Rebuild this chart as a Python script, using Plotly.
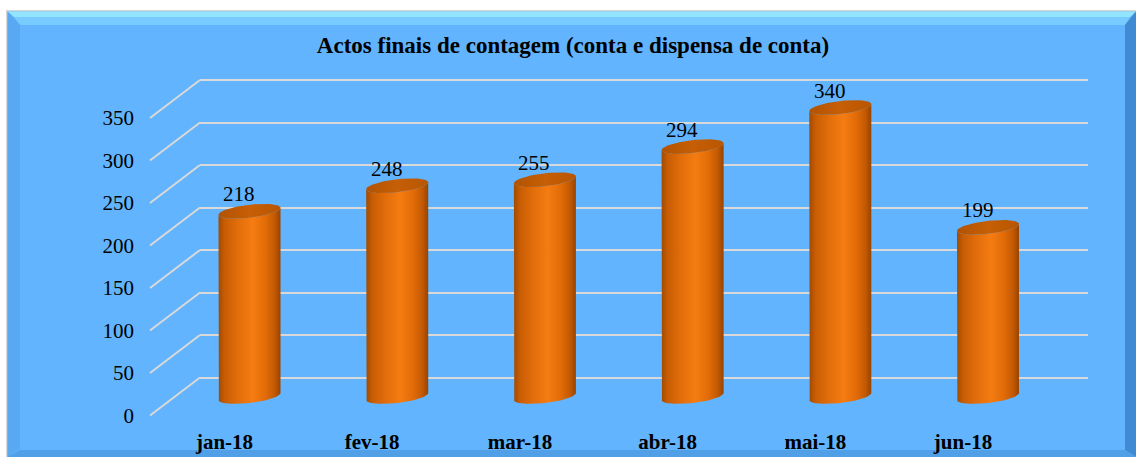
import numpy as np
import plotly.graph_objects as go

# ---------------- data ----------------
categories = ["jan-18", "fev-18", "mar-18", "abr-18", "mai-18", "jun-18"]
values = [218, 248, 255, 294, 340, 199]
tick_values = [0, 50, 100, 150, 200, 250, 300, 350]
tick_labels = ["0", "50", "100", "150", "200", "250", "300", "350"]
title_text = "Actos finais de contagem (conta e dispensa de conta)"

# ---------------- geometry / style ----------------
W, H = 1136, 457
PXU = 0.85            # pixels per value unit
PXC = 147.7           # pixels per category
X0_PX = 249.5         # pixel of first category centre (mid depth)
MID0_PX = 396.5       # pixel of value 0 at mid depth
DEPTH_DX, DEPTH_DY = 50, 38   # full depth offset (front -> back)
BACK0_PX = MID0_PX - DEPTH_DY / 2
FRONT0_PX = MID0_PX + DEPTH_DY / 2
RX, RY, SHEAR = 31.0, 6.5, 3.5
FONT = "Liberation Serif, Times New Roman, serif"

span_y = H / PXU
def yrange(zero_px):
    y0 = -(H - zero_px) / PXU
    return [y0, y0 + span_y]

xr_mid = [-X0_PX / PXC, (W - X0_PX) / PXC]
shift_front = (DEPTH_DX / 2) / PXC
xr_front = [xr_mid[0] + shift_front, xr_mid[1] + shift_front]

fig = go.Figure()

body_scale = [[0.0, "#a24a00"], [0.1, "#c85d04"], [0.3, "#e16c0a"],
              [0.55, "#f57c12"], [0.75, "#e36c08"], [0.9, "#c45a03"], [1.0, "#984400"]]
top_scale = [[0.0, "#b25200"], [0.5, "#c65f06"], [1.0, "#b85600"]]

def pt(i, v, th):
    x = i + RX * np.cos(th) / PXC
    y = v - (RY * np.sin(th) - SHEAR * np.cos(th)) / PXU
    return x, y

for i, v in enumerate(values):
    th_b = np.linspace(np.pi, 0, 41)
    th_t = np.linspace(0, np.pi, 41)
    xb, yb = pt(i, 0, th_b)
    xt, yt = pt(i, v, th_t)
    x0, y0 = pt(i, v, np.pi)
    xs = np.concatenate([[x0], xb, xt])
    ys = np.concatenate([[y0], yb, yt])
    fig.add_trace(go.Scatter(
        x=xs, y=ys, xaxis="x2", yaxis="y2", mode="lines", fill="toself",
        line=dict(width=0, color="rgba(0,0,0,0)"),
        fillgradient=dict(type="horizontal", colorscale=body_scale,
                          start=i - RX / PXC, stop=i + RX / PXC),
        hoverinfo="skip", showlegend=False))
    th = np.linspace(0, 2 * np.pi, 81)
    xe, ye = pt(i, v, th)
    fig.add_trace(go.Scatter(
        x=xe, y=ye, xaxis="x2", yaxis="y2", mode="lines", fill="toself",
        line=dict(width=0, color="rgba(0,0,0,0)"),
        fillgradient=dict(type="horizontal", colorscale=top_scale,
                          start=i - RX / PXC, stop=i + RX / PXC),
        hoverinfo="skip", showlegend=False))

# dummy trace to make the grid subplot exist
fig.add_trace(go.Scatter(x=[0, 1], y=[0, 0], xaxis="x", yaxis="y", mode="lines",
                         line=dict(width=0, color="rgba(0,0,0,0)"),
                         hoverinfo="skip", showlegend=False))
# front axis holders
fig.add_trace(go.Scatter(x=[0], y=[0], xaxis="x3", yaxis="y3", mode="markers",
                         marker=dict(opacity=0), hoverinfo="skip", showlegend=False))

shapes = []
def px2fx(px): return px / W
def px2fy(py): return 1 - py / H
# outer frame & blue background
shapes.append(dict(type="rect", xref="paper", yref="paper", layer="below",
                   x0=px2fx(6), x1=1, y0=0, y1=px2fy(10),
                   fillcolor="#d6d6d6", line=dict(width=0)))
shapes.append(dict(type="rect", xref="paper", yref="paper", layer="below",
                   x0=px2fx(7.5), x1=1, y0=0, y1=px2fy(11.5),
                   fillcolor="#61b4fd", line=dict(width=0)))
def poly(pts, color):
    d = "M " + " L ".join(f"{px2fx(a):.5f},{px2fy(b):.5f}" for a, b in pts) + " Z"
    shapes.append(dict(type="path", xref="paper", yref="paper", layer="below",
                       path=d, fillcolor=color, line=dict(width=0)))
poly([(7.5, 11.5), (1136, 11.5), (1130, 17), (14, 17)], "#92e4ff")
poly([(14, 17), (1130, 17), (1125, 25), (20, 25)], "#78cbfe")
poly([(7.5, 11.5), (20, 25), (20, 449), (7.5, 457)], "#59a9f2")
poly([(1136, 11.5), (1136, 457), (1125, 450), (1125, 25)], "#3f8ad2")
poly([(7.5, 457), (20, 450), (1125, 450), (1136, 457)], "#519fe6")

# left wall diagonals (front label position -> back grid)
for t in tick_values:
    y_back = t
    y_front = t - DEPTH_DY / PXU
    shapes.append(dict(type="path", xref="paper", yref="y", layer="below",
                       path=f"M {px2fx(150)},{y_front} L {px2fx(200)},{y_back}",
                       line=dict(color="#d9d9d9", width=2)))

annotations = []
for i, v in enumerate(values):
    annotations.append(dict(x=i, y=v, xref="x2", yref="y2", text=str(v),
                            showarrow=False, xshift=-10.5, yshift=17,
                            xanchor="center", yanchor="middle",
                            font=dict(family=FONT, size=21, color="#000")))

fig.update_layout(
    width=W, height=H, margin=dict(l=0, r=0, t=0, b=0),
    paper_bgcolor="#ffffff", plot_bgcolor="rgba(0,0,0,0)",
    showlegend=False,
    title=dict(text=f"<b>{title_text}</b>", x=573 / W, y=1 - 45 / H,
               xanchor="center", yanchor="middle",
               font=dict(family=FONT, size=23, color="#000")),
    xaxis=dict(domain=[200 / W, 1088 / W], range=[0, 1], visible=False, fixedrange=True),
    yaxis=dict(domain=[0, 1], range=yrange(BACK0_PX), tickvals=tick_values,
               showgrid=True, gridcolor="#d9d9d9", gridwidth=2,
               showticklabels=False, zeroline=False, showline=False, ticks="",
               fixedrange=True),
    xaxis2=dict(domain=[0, 1], range=xr_mid, visible=False, anchor="y2", fixedrange=True),
    yaxis2=dict(domain=[0, 1], range=yrange(MID0_PX), visible=False, anchor="x2",
                fixedrange=True),
    xaxis3=dict(overlaying="x2", anchor="free", position=1 - 427 / H, range=xr_front,
                tickvals=list(range(len(categories))), ticktext=categories,
                showgrid=False, zeroline=False, showline=False, ticks="",
                tickfont=dict(family=FONT, size=21, color="#000", weight="bold"),
                fixedrange=True),
    yaxis3=dict(overlaying="y2", anchor="free", position=134 / W, range=yrange(FRONT0_PX),
                tickvals=tick_values, ticktext=tick_labels, side="left",
                showgrid=False, zeroline=False, showline=False, ticks="",
                tickfont=dict(family=FONT, size=21, color="#000"), fixedrange=True),
    shapes=shapes, annotations=annotations,
)

fig.write_html("out.html", config={"displayModeBar": False, "staticPlot": True},
               post_script="document.body.style.margin='0';document.body.style.overflow='hidden';")
